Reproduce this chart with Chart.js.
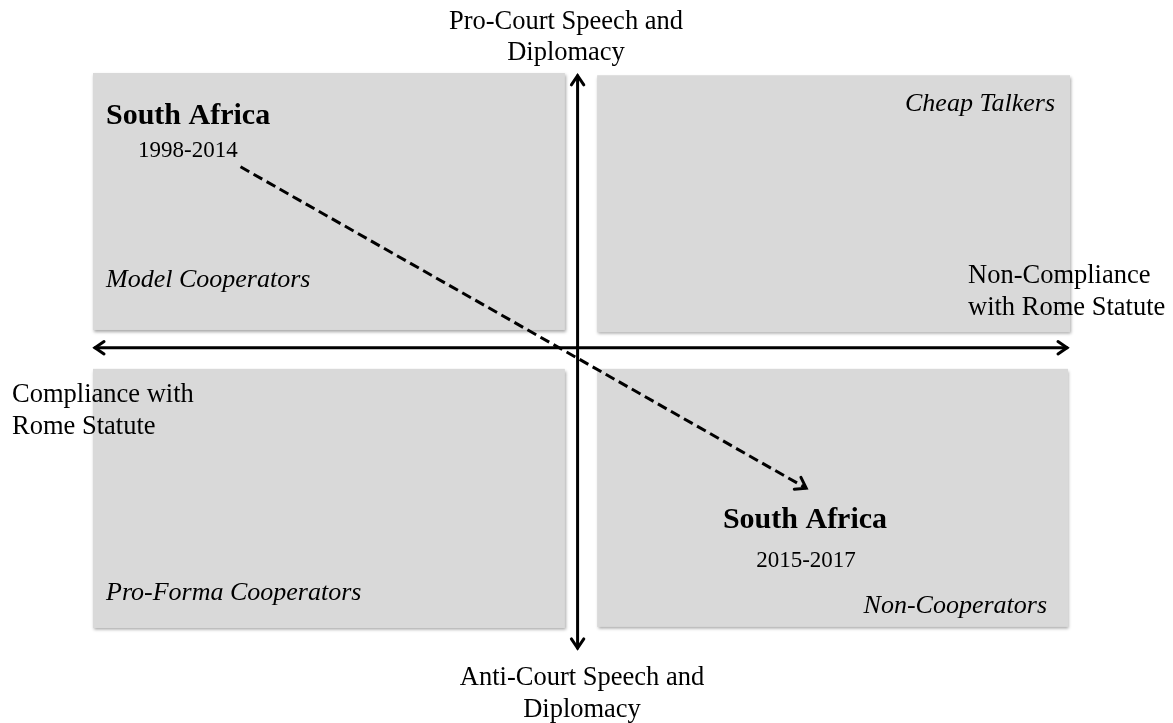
<!DOCTYPE html>
<html>
<head>
<meta charset="utf-8">
<title>South Africa – ICC cooperation</title>
<script src="https://cdn.jsdelivr.net/npm/chart.js@4/dist/chart.umd.min.js"></script>
<style>
  html, body { margin: 0; padding: 0; background: #fff; }
  #wrap { width: 1173px; height: 723px; position: relative; }
</style>
</head>
<body>
<div id="wrap"><canvas id="chart"></canvas></div>
<script>
// data — conceptual space 0..100 on both axes (x: compliance → non-compliance, y: anti → pro court)
const quadrants  = ['Model Cooperators', 'Cheap Talkers', 'Pro-Forma Cooperators', 'Non-Cooperators'];
const actor      = 'South Africa';
const periods    = ['1998-2014', '2015-2017'];
const periodX    = [15.1, 73.0];
const periodY    = [83.1, 25.2];
const axisLabels = {
  top:    ['Pro-Court Speech and', 'Diplomacy'],
  bottom: ['Anti-Court Speech and', 'Diplomacy'],
  left:   ['Compliance with', 'Rome Statute'],
  right:  ['Non-Compliance', 'with Rome Statute']
};

const SERIF  = '"Liberation Serif", "Times New Roman", serif';
const CENTER = { x: 49.6, y: 50.5 };

function arrowHead(ctx, x, y, ang, len) {
  ctx.beginPath();
  ctx.moveTo(x - len * Math.cos(ang - 0.6), y - len * Math.sin(ang - 0.6));
  ctx.lineTo(x, y);
  ctx.lineTo(x - len * Math.cos(ang + 0.6), y - len * Math.sin(ang + 0.6));
  ctx.stroke();
}

function text(ctx, str, x, y, font, align) {
  ctx.font = font;
  ctx.textAlign = align || 'left';
  ctx.fillText(str, x, y);
}

const diagram = {
  id: 'diagram',
  beforeDatasetsDraw(chart) {
    const { ctx, scales: { x, y } } = chart;
    const px = v => x.getPixelForValue(v);
    const py = v => y.getPixelForValue(v);

    // quadrant boxes [x0, x1, y0, y1]
    const boxes = [
      [0,    48.3, 53.7, 100],
      [51.6, 100,  53.3, 99.6],
      [0,    48.3, 0,    46.7],
      [51.6, 99.8, 0.2,  46.7]
    ];
    ctx.save();
    ctx.fillStyle = '#d9d9d9';
    ctx.shadowColor = 'rgba(0,0,0,0.35)';
    ctx.shadowBlur = 3;
    ctx.shadowOffsetX = 1;
    ctx.shadowOffsetY = 2;
    boxes.forEach(([x0, x1, y0, y1]) => {
      ctx.fillRect(px(x0), py(y1), px(x1) - px(x0), py(y0) - py(y1));
    });
    ctx.restore();

    // axes with arrow heads
    ctx.save();
    ctx.strokeStyle = '#000';
    ctx.lineWidth = 3;
    ctx.lineCap = 'round';
    const cx = px(CENTER.x), cy = py(CENTER.y);
    const l = px(0.2), r = px(99.7), t = py(99.5), b = py(-3.6);
    ctx.beginPath();
    ctx.moveTo(l, cy); ctx.lineTo(r, cy);
    ctx.moveTo(cx, t); ctx.lineTo(cx, b);
    ctx.stroke();
    arrowHead(ctx, l, cy, Math.PI, 11);
    arrowHead(ctx, r, cy, 0, 11);
    arrowHead(ctx, cx, t, -Math.PI / 2, 11);
    arrowHead(ctx, cx, b, Math.PI / 2, 11);
    ctx.restore();
  },
  afterDatasetsDraw(chart) {
    const { ctx, scales: { x, y } } = chart;
    const px = v => x.getPixelForValue(v);
    const py = v => y.getPixelForValue(v);

    // arrow head at the end of the trajectory
    const n = periodX.length - 1;
    const ang = Math.atan2(py(periodY[n]) - py(periodY[n - 1]), px(periodX[n]) - px(periodX[n - 1]));
    ctx.save();
    ctx.strokeStyle = '#000';
    ctx.lineWidth = 3;
    ctx.lineCap = 'round';
    arrowHead(ctx, px(periodX[n]), py(periodY[n]), ang, 12);

    ctx.fillStyle = '#000';
    ctx.textBaseline = 'alphabetic';
    const bold = `bold 30px ${SERIF}`;
    const yr   = `23px ${SERIF}`;
    const ital = `italic 26px ${SERIF}`;
    const ax   = `26.5px ${SERIF}`;

    // actor / period labels
    text(ctx, actor,      106, 124, bold);
    text(ctx, periods[0], 138, 157, yr);
    text(ctx, actor,      805, 528, bold, 'center');
    text(ctx, periods[1], 806, 567, yr, 'center');

    // quadrant names
    text(ctx, quadrants[0], 106,  287, ital);
    text(ctx, quadrants[1], 1055, 111, ital, 'right');
    text(ctx, quadrants[2], 106,  600, ital);
    text(ctx, quadrants[3], 1047, 613, ital, 'right');

    // axis labels
    text(ctx, axisLabels.top[0],    566, 29,  ax, 'center');
    text(ctx, axisLabels.top[1],    566, 60,  ax, 'center');
    text(ctx, axisLabels.bottom[0], 582, 685, ax, 'center');
    text(ctx, axisLabels.bottom[1], 582, 717, ax, 'center');
    text(ctx, axisLabels.left[0],   12,  402, ax);
    text(ctx, axisLabels.left[1],   12,  434, ax);
    text(ctx, axisLabels.right[0],  968, 283, ax);
    text(ctx, axisLabels.right[1],  968, 315, ax);
    ctx.restore();
  }
};

new Chart(document.getElementById('chart'), {
  type: 'scatter',
  data: {
    labels: periods,
    datasets: [{
      label: actor,
      data: periodX.map((v, i) => ({ x: v, y: periodY[i] })),
      showLine: true,
      borderColor: '#000',
      borderWidth: 3,
      borderDash: [10, 5],
      pointRadius: 0,
      clip: false
    }]
  },
  options: {
    responsive: true,
    maintainAspectRatio: false,
    animation: false,
    layout: { padding: { left: 93, right: 103, top: 73, bottom: 95 } },
    scales: {
      x: { type: 'linear', min: 0, max: 100, display: false },
      y: { type: 'linear', min: 0, max: 100, display: false }
    },
    plugins: {
      legend:  { display: false },
      tooltip: { enabled: false }
    }
  },
  plugins: [diagram]
});
</script>
</body>
</html>
